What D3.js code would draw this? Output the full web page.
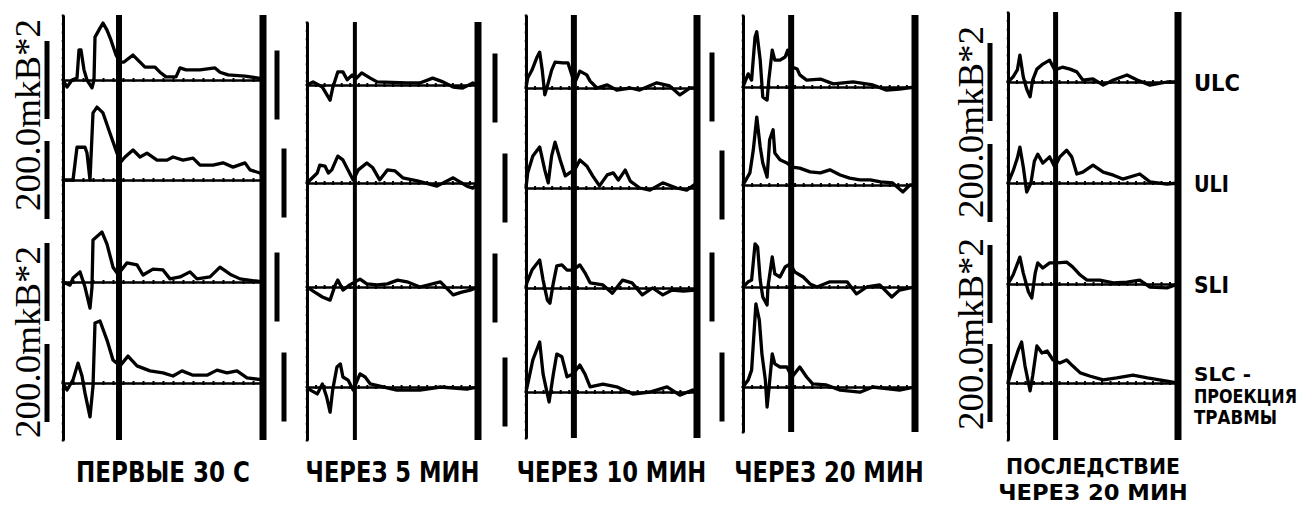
<!DOCTYPE html>
<html>
<head>
<meta charset="utf-8">
<script src="https://cdn.jsdelivr.net/npm/d3@7"></script>
<style>
  body { margin: 0; background: #fff; }
  svg { display: block; }
</style>
</head>
<body>
<svg id="chart" width="1303" height="506"></svg>
<script>
// Leads (rows) and stage captions (columns)
const channels = ["ULC", "ULI", "SLI", "SLC"];
const channelLabels = [["ULC"], ["ULI"], ["SLI"], ["SLC -", "ПРОЕКЦИЯ", "ТРАВМЫ"]];
const stageTitles = [["ПЕРВЫЕ 30 С"], ["ЧЕРЕЗ 5 МИН"], ["ЧЕРЕЗ 10 МИН"], ["ЧЕРЕЗ 20 МИН"], ["ПОСЛЕДСТВИЕ", "ЧЕРЕЗ 20 МИН"]];
const scaleValue = 200;            // calibration bar, mkV^2
const scaleLabel = "200.0mkB*2";
const markerT = 28;                // stimulus marker, % of sweep

// Sweeps: [time, % of sweep ; power, mkV^2]
const sec30_ULC = [[0,0],[2,-18],[4.5,0],[7,5],[8,77],[9,77],[10.5,26],[12,0],[14.5,-20],[15.5,0],[16,110],[18.5,133],[20,146],[22,128],[24,102],[26.5,64],[28.5,46],[30.5,46],[35,64],[37.5,51],[41,33],[46,33],[48.5,20],[51.5,8],[56.5,8],[58.5,31],[61.5,26],[68.5,26],[76,31],[78.5,20],[82.5,13],[91,10],[100,3]];
const sec30_ULI = [[0,0],[5,0],[7,84],[11,84],[12,69],[13.5,0],[15,172],[17,187],[20,172],[23.5,120],[27,69],[28.5,44],[31,59],[35,77],[38.5,59],[42,69],[47,51],[52,51],[55,59],[60,51],[65,56],[68.5,38],[75,38],[80,44],[85,33],[91,44],[93.5,26],[98.5,18],[100,8]];
const sec30_SLI = [[0,0],[3.5,-8],[5,10],[8.5,26],[11,-13],[13.5,-67],[14.5,-13],[15,108],[19.5,128],[22,97],[25,38],[27.5,20],[32,49],[37,44],[40,18],[45,33],[50,31],[53.5,8],[58.5,13],[63.5,26],[67,8],[73.5,13],[78.5,38],[83.5,20],[88.5,8],[100,0]];
const sec30_SLC = [[0,0],[2,-18],[5,8],[7.5,51],[9.5,18],[11,-26],[13.5,-87],[15,-8],[16,154],[18.5,159],[22,110],[25,59],[28.5,44],[32.5,69],[37,44],[43.5,31],[50,26],[55,18],[59.5,31],[65,20],[72,20],[77,33],[82,26],[87,31],[92,13],[100,8]];

const min5_ULC = [[0,0],[3.5,9],[9,-6],[13.5,-44],[15,-9],[18,38],[21,38],[23.5,15],[26.5,29],[29,20],[32,35],[37,20],[41,9],[58.5,6],[66,6],[73.5,20],[79.5,9],[85.5,-6],[91,-9],[97,6],[100,0]];
const min5_ULI = [[0,0],[6,29],[7.5,52],[10.5,49],[12.5,29],[14.5,38],[18,78],[21,67],[24,38],[27,9],[30,38],[35,58],[38.5,44],[42.5,9],[47,38],[51.5,35],[56,15],[64.5,6],[76,-9],[85.5,15],[93.5,-9],[97,-15],[100,0]];
const min5_SLI = [[0,0],[4.5,-15],[9,-29],[13.5,-38],[16.5,6],[18,20],[21,-9],[25,6],[31,23],[35,9],[41,6],[47,9],[53,20],[58.5,15],[66,0],[78,15],[85.5,-23],[90.5,-15],[95.5,-9],[100,0]];
const min5_SLC = [[0,0],[2,-9],[6,-20],[9,9],[11.5,-29],[13.5,-73],[15,-9],[17.5,58],[19.5,67],[21,29],[24,20],[27,-9],[31,38],[34,29],[37,9],[52.5,-9],[66,-9],[78,0],[93.5,-6],[100,0]];

const min10_ULC = [[0,0],[1,29],[3.5,52],[6.5,90],[8,104],[9.5,52],[11,-20],[13,15],[15,52],[17,75],[21.5,73],[24.5,73],[27,35],[28.5,15],[31.5,49],[35.5,38],[37.5,20],[41.5,0],[47.5,9],[53,-6],[61,0],[66.5,-6],[76.5,15],[84,6],[90,-20],[96,0],[100,0]];
const min10_ULI = [[0,0],[1,44],[4,93],[8,119],[11,52],[13,15],[15,93],[17,133],[20,81],[23,35],[25.5,44],[28.5,52],[31.5,81],[35.5,64],[39,35],[43,6],[47.5,38],[51,44],[54,23],[58,52],[61,20],[66.5,0],[72.5,-6],[80,15],[88,0],[94,-6],[100,15]];
const min10_SLI = [[0,0],[0.5,15],[3.5,52],[8,81],[10,23],[12.5,-35],[14,-44],[16,15],[18,64],[21,67],[24,52],[27.5,52],[31.5,67],[34.5,44],[37.5,15],[45,9],[50.5,-15],[56.5,23],[62,15],[68,-20],[74,0],[80,-20],[85.5,-6],[92,-9],[99,-6],[100,0]];
const min10_SLC = [[0,0],[1,23],[4,93],[8,145],[10,52],[12.5,-6],[13.5,-29],[16,52],[18,110],[21,102],[24,44],[27.5,52],[31.5,78],[34.5,52],[37.5,15],[45,23],[53,15],[62.5,-6],[72.5,0],[82.5,15],[90,-9],[97.5,6],[100,0]];

const min20_ULC = [[0,0],[3,38],[5,20],[7,145],[8,160],[10,78],[11.5,-29],[14,-38],[15,20],[17,107],[18.5,78],[21.5,78],[24.5,87],[26,107],[28.5,58],[31.5,52],[33,35],[37,20],[45,23],[52.5,9],[64,15],[75.5,6],[83.5,-9],[91,-6],[100,0]];
const min20_ULI = [[0,0],[4,35],[6,102],[8,197],[10,110],[11.5,64],[14,23],[15.5,131],[17.5,160],[18.5,93],[21.5,73],[25.5,64],[28.5,52],[33,49],[39,38],[45,35],[50.5,44],[56.5,29],[62,20],[68,15],[74,15],[80,9],[87,6],[93,-20],[97,0],[100,0]];
const min20_SLI = [[0,0],[3,15],[5,20],[7,125],[8.5,116],[10,20],[11.5,-29],[14,-52],[14.5,0],[17,87],[18.5,38],[21.5,29],[24.5,58],[27.5,67],[30,44],[35,29],[39,9],[43,0],[50.5,15],[60.5,15],[66,-20],[72,0],[79.5,6],[86.5,-29],[91,-9],[100,0]];
const min20_SLC = [[0,0],[3,20],[5,49],[7.5,241],[9.5,194],[11,96],[13,20],[14,-58],[15,-9],[17,96],[18.5,67],[21.5,58],[25.5,58],[28.5,29],[33,58],[37,29],[40.5,9],[48.5,6],[56.5,-9],[68,-15],[75.5,0],[91,-9],[100,0]];

const after20_ULC = [[0,0],[3,13],[5.5,31],[7,69],[9,13],[11,-18],[13,-38],[14.5,5],[17,33],[20.5,46],[24.5,56],[27.5,31],[32,38],[36.5,33],[40.5,26],[44,5],[50,8],[56,-8],[62,5],[70,18],[76,5],[83.5,-8],[93.5,0],[100,0]];
const after20_ULI = [[0,0],[3,31],[5.5,64],[7,92],[9,41],[11,-23],[13.5,0],[15.5,56],[17.5,74],[20.5,51],[24.5,67],[27.5,41],[30.5,67],[34.5,84],[37.5,67],[40.5,23],[44,28],[50,46],[56,28],[62,20],[67.5,10],[77.5,23],[83.5,3],[93.5,-3],[100,0]];
const after20_SLI = [[0,0],[3,23],[7,69],[9,28],[12,-20],[14,-36],[16,28],[17.5,54],[20.5,41],[24.5,54],[29,54],[34.5,56],[38,44],[42.5,23],[46.5,10],[54,10],[62,3],[70,5],[77.5,10],[83.5,-8],[93.5,-10],[100,0]];
const after20_SLC = [[0,0],[3,44],[6,84],[8,105],[10,44],[13,-20],[14.5,18],[17,95],[20,77],[23,82],[26.5,59],[30.5,51],[34.5,59],[38,44],[42.5,26],[48,18],[56,8],[64,13],[73.5,20],[82,13],[93.5,5],[100,0]];

const stageSeries = [
  [sec30_ULC, sec30_ULI, sec30_SLI, sec30_SLC],
  [min5_ULC, min5_ULI, min5_SLI, min5_SLC],
  [min10_ULC, min10_ULI, min10_SLI, min10_SLC],
  [min20_ULC, min20_ULI, min20_SLI, min20_SLC],
  [after20_ULC, after20_ULI, after20_SLI, after20_SLC]
];

// Frame geometry of each stage panel
const frames = [
  { x0: 63,   x1: 263,  top: 15, bottom: 440, base: [80, 180, 282, 383], gain: 78, midW: 6, barDx: [-16, -16, -16, -16], scaleText: { x: 40,  y: [115, 342] } },
  { x0: 307,  x1: 478,  top: 22, bottom: 440, base: [85, 183, 287, 387], gain: 69, midW: 4, barDx: [-30, -23, -30, -23] },
  { x0: 526,  x1: 697,  top: 15, bottom: 438, base: [88, 188, 288, 392], gain: 69, midW: 6, barDx: [-31, -21, -31, -21] },
  { x0: 743,  x1: 915,  top: 15, bottom: 432, base: [87, 185, 287, 387], gain: 69, midW: 6, barDx: [-31, -21, -31, -21] },
  { x0: 1008, x1: 1178, top: 12, bottom: 440, base: [82, 183, 284, 383], gain: 78, midW: 5, barDx: [-18, -18, -18, -18], scaleText: { x: 983, y: [122, 334] } }
];

const svg = d3.select("#chart");
const ink = "#000";
const titleFont = "'DejaVu Sans Condensed', 'DejaVu Sans', sans-serif";

frames.forEach((f, pi) => {
  const g = svg.append("g");
  const x = d3.scaleLinear().domain([0, 100]).range([f.x0, f.x1]);
  const yFrame = d3.scaleLinear().domain([0, 1]).range([f.top, f.bottom]);

  // dotted left boundary of the sweep
  const leftAxis = g.append("g").attr("transform", `translate(${f.x0},0)`)
    .call(d3.axisLeft(yFrame).ticks(45).tickSize(2).tickSizeOuter(0).tickFormat(""));
  leftAxis.select(".domain").attr("stroke", ink).attr("stroke-width", 3);
  leftAxis.selectAll(".tick line").attr("stroke", ink).attr("stroke-width", 2).attr("x2", 2.5).attr("transform", "translate(-1.25,0)");

  // stimulus marker and end of sweep
  g.append("line").attr("x1", x(markerT)).attr("x2", x(markerT)).attr("y1", f.top).attr("y2", f.bottom)
    .attr("stroke", ink).attr("stroke-width", f.midW);
  g.append("line").attr("x1", x(100)).attr("x2", x(100)).attr("y1", f.top).attr("y2", f.bottom)
    .attr("stroke", ink).attr("stroke-width", 7);

  channels.forEach((ch, ci) => {
    const y = d3.scaleLinear().domain([0, scaleValue]).range([f.base[ci], f.base[ci] - f.gain]);

    // zero line with small time ticks
    const xAxis = g.append("g").attr("transform", `translate(0,${y(0)})`)
      .call(d3.axisBottom(x).ticks(20).tickSize(2).tickSizeOuter(0).tickFormat(""));
    xAxis.select(".domain").attr("stroke", ink).attr("stroke-width", 2.5);
    xAxis.selectAll(".tick line").attr("stroke", ink).attr("stroke-width", 2).attr("y1", -2).attr("y2", 2);

    // calibration bar: scaleValue mkV^2 centred on the zero line
    g.append("line")
      .attr("x1", f.x0 + f.barDx[ci]).attr("x2", f.x0 + f.barDx[ci])
      .attr("y1", y(-scaleValue / 2)).attr("y2", y(scaleValue / 2))
      .attr("stroke", ink).attr("stroke-width", 5);

    // sweep
    const line = d3.line().x(d => x(d[0])).y(d => y(d[1]));
    g.append("path").datum(stageSeries[pi][ci])
      .attr("d", line)
      .attr("fill", "none").attr("stroke", ink)
      .attr("stroke-width", 3.3).attr("stroke-linejoin", "round").attr("stroke-linecap", "round");
  });

  // calibration legend text
  if (f.scaleText) {
    f.scaleText.y.forEach(cy => {
      g.append("text")
        .attr("transform", `translate(${f.scaleText.x},${cy}) rotate(-90)`)
        .attr("text-anchor", "middle")
        .attr("font-family", "'Liberation Serif', 'DejaVu Serif', serif")
        .attr("font-size", 35)
        .attr("textLength", 192).attr("lengthAdjust", "spacingAndGlyphs")
        .attr("fill", ink)
        .text(scaleLabel);
    });
  }

  // stage caption (one text element, one tspan per line)
  const cx = (f.x0 + f.x1) / 2;
  const lines = stageTitles[pi];
  const twoLine = lines.length > 1;
  const cap = g.append("text")
    .attr("text-anchor", "middle")
    .attr("font-family", titleFont).attr("font-weight", 700)
    .attr("font-size", twoLine ? 22 : 29)
    .attr("fill", ink);
  lines.forEach((t, li) => {
    cap.append("tspan")
      .attr("x", cx).attr("y", twoLine ? 474 + li * 26 : 482)
      .attr("textLength", t.length * 15.8).attr("lengthAdjust", "spacingAndGlyphs")
      .text(t);
  });
});

// lead names to the right of the last panel
const last = frames[frames.length - 1];
channelLabels.forEach((lines, ci) => {
  const big = lines.length === 1;
  lines.forEach((t, li) => {
    svg.append("text")
      .attr("x", 1194)
      .attr("y", big ? last.base[ci] + 9 : 381 + li * 21.5)
      .attr("font-family", titleFont).attr("font-weight", 700)
      .attr("font-size", big ? 23 : 19)
      .attr("textLength", big ? (t === "ULC" ? 46 : 35) : (t === "SLC -" ? 57 : t === "ПРОЕКЦИЯ" ? 103 : 83))
      .attr("lengthAdjust", "spacingAndGlyphs")
      .attr("fill", ink)
      .text(t);
  });
});
</script>
</body>
</html>
